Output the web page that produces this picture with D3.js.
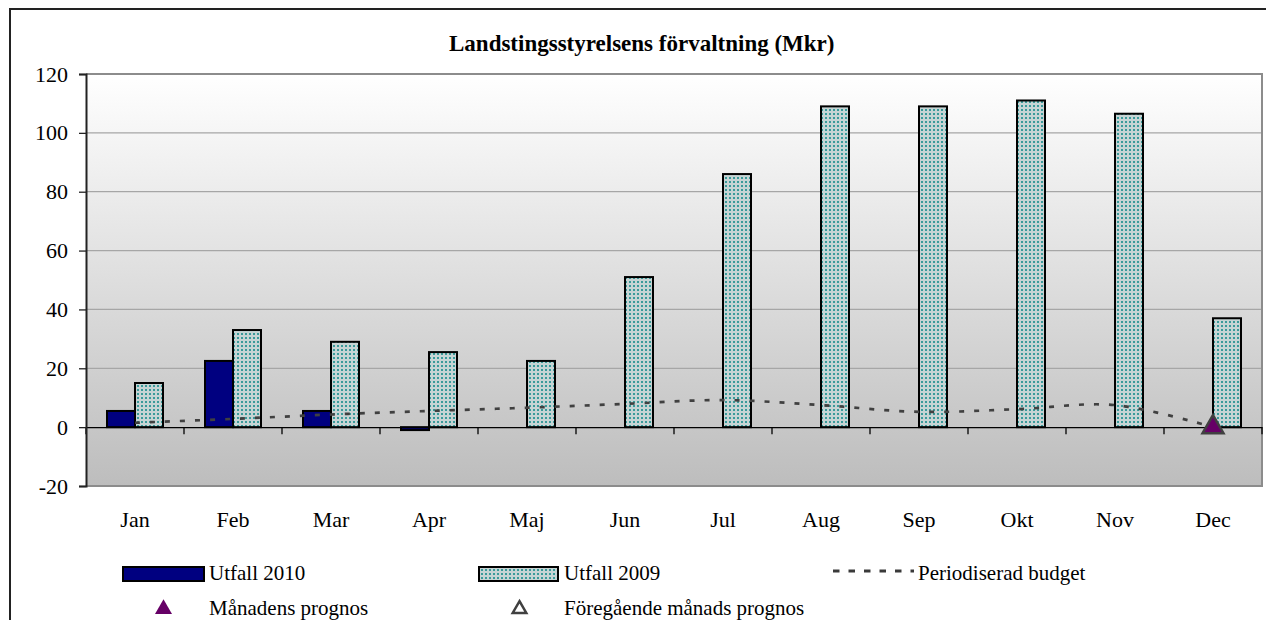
<!DOCTYPE html>
<html>
<head>
<meta charset="utf-8">
<script src="https://cdn.jsdelivr.net/npm/d3@7"></script>
<style>
  body { margin: 0; background: #fff; }
  svg { display: block; }
  svg text { font-family: "Liberation Serif", "Times New Roman", Times, "DejaVu Serif", serif; }
</style>
</head>
<body>
<svg width="1266" height="620"></svg>
<script>
// chart data
const months = ["Jan", "Feb", "Mar", "Apr", "Maj", "Jun", "Jul", "Aug", "Sep", "Okt", "Nov", "Dec"];
const utfall2010 = [5.5, 22.5, 5.5, -1, null, null, null, null, null, null, null, null];
const utfall2009 = [15, 33, 29, 25.5, 22.5, 51, 86, 109, 109, 111, 106.5, 37];
const budget = [1.5, 2.8, 4.3, 5.5, 6.6, 7.9, 9.2, 7.5, 5.2, 6.1, 7.5, 0];
const prognos = [{ month: "Dec", value: 0 }];
const yTicks = [-20, 0, 20, 40, 60, 80, 100, 120];

let svg = d3.select("svg");
let plotLeft = 86, plotRight = 1262, plotTop = 74, plotBottom = 486;

let x = d3.scaleBand().domain(months).range([plotLeft, plotRight]);
let y = d3.scaleLinear().domain([-20, 120]).range([plotBottom, plotTop]);
let inner = d3.scaleBand().domain(["2010", "2009"]).range([x.bandwidth() / 2 - 28, x.bandwidth() / 2 + 28]);

let defs = svg.append("defs");
let grad = defs.append("linearGradient")
    .attr("id", "bg").attr("x1", 0).attr("y1", 0).attr("x2", 0).attr("y2", 1);
grad.append("stop").attr("offset", "0%").attr("stop-color", "#ffffff");
grad.append("stop").attr("offset", "100%").attr("stop-color", "#bdbdbd");

// dotted fill for 2009 bars
let pat = defs.append("pattern")
    .attr("id", "dots").attr("width", 4).attr("height", 4)
    .attr("patternUnits", "userSpaceOnUse");
pat.append("rect").attr("width", 4).attr("height", 4).attr("fill", "#c6d4d4");
pat.append("rect").attr("x", 1).attr("y", 1).attr("width", 2).attr("height", 2).attr("fill", "#3a9a9a");

// outer frame (runs off the picture at right and bottom)
svg.append("rect")
    .attr("x", 10).attr("y", 9).attr("width", 1300).attr("height", 700)
    .attr("fill", "none").attr("stroke", "#222").attr("stroke-width", 2);

// plot background
svg.append("rect")
    .attr("x", plotLeft).attr("y", plotTop)
    .attr("width", plotRight - plotLeft).attr("height", plotBottom - plotTop)
    .attr("fill", "url(#bg)");

// gridlines
svg.append("g").selectAll("line")
    .data(yTicks.filter(d => d > -20 && d !== 0))
    .enter().append("line")
    .attr("x1", plotLeft).attr("x2", plotRight)
    .attr("y1", d => y(d)).attr("y2", d => y(d))
    .attr("stroke", "#a6a6a6").attr("stroke-width", 1.2);

// plot border
svg.append("path")
    .attr("d", `M${plotLeft},${plotTop}H${plotRight}V${plotBottom}H${plotLeft}`)
    .attr("fill", "none").attr("stroke", "#8c8c8c").attr("stroke-width", 2);

// title
svg.append("text")
    .attr("x", 449).attr("y", 51)
    .attr("font-size", 23).attr("font-weight", "bold")
    .text("Landstingsstyrelsens förvaltning (Mkr)");

// bars 2009
svg.append("g").selectAll("rect")
    .data(months.map((m, i) => ({ m: m, v: utfall2009[i] })))
    .enter().append("rect")
    .attr("x", d => x(d.m) + inner("2009"))
    .attr("width", inner.bandwidth())
    .attr("y", d => y(Math.max(0, d.v)))
    .attr("height", d => Math.abs(y(d.v) - y(0)))
    .attr("fill", "url(#dots)").attr("stroke", "#000").attr("stroke-width", 2);

// bars 2010
svg.append("g").selectAll("rect")
    .data(months.map((m, i) => ({ m: m, v: utfall2010[i] })).filter(d => d.v !== null))
    .enter().append("rect")
    .attr("x", d => x(d.m) + inner("2010"))
    .attr("width", inner.bandwidth())
    .attr("y", d => y(Math.max(0, d.v)))
    .attr("height", d => Math.abs(y(d.v) - y(0)))
    .attr("fill", "#000080").attr("stroke", "#000").attr("stroke-width", 2);

// zero axis with ticks
svg.append("g")
    .attr("transform", `translate(0,${y(0)})`)
    .call(d3.axisBottom(x).tickSize(0).tickFormat(""))
    .call(g => g.select(".domain").attr("stroke", "#000").attr("stroke-width", 1.3));
svg.append("g").selectAll("line")
    .data(d3.range(months.length + 1))
    .enter().append("line")
    .attr("x1", i => plotLeft + i * x.step()).attr("x2", i => plotLeft + i * x.step())
    .attr("y1", y(0)).attr("y2", y(0) + 7)
    .attr("stroke", "#000").attr("stroke-width", 1.3);

// y axis
let yAxis = svg.append("g")
    .attr("transform", `translate(${plotLeft},0)`)
    .call(d3.axisLeft(y).tickValues(yTicks).tickSize(7).tickPadding(11).tickFormat(d => String(d)));
yAxis.attr("font-family", null);
yAxis.select(".domain").attr("stroke", "#222").attr("stroke-width", 2);
yAxis.selectAll(".tick line").attr("stroke", "#222").attr("stroke-width", 1.3);
yAxis.selectAll("text").attr("font-size", 22).attr("fill", "#000");

// month labels
svg.append("g").selectAll("text")
    .data(months).enter().append("text")
    .attr("x", d => x(d) + x.bandwidth() / 2)
    .attr("y", 527)
    .attr("text-anchor", "middle").attr("font-size", 22)
    .text(d => d);

// budget line
let line = d3.line()
    .x((d, i) => x(months[i]) + x.bandwidth() / 2)
    .y(d => y(d))
    .curve(d3.curveCatmullRom);
svg.append("path")
    .datum(budget)
    .attr("d", line)
    .attr("fill", "none").attr("stroke", "#404040")
    .attr("stroke-width", 2.7).attr("stroke-dasharray", "5,10");

// forecast marker
let tri = d3.symbol().type(d3.symbolTriangle).size(190);
svg.append("g").selectAll("path")
    .data(prognos).enter().append("path")
    .attr("d", tri)
    .attr("transform", d => `translate(${x(d.month) + x.bandwidth() / 2},${y(d.value)})`)
    .attr("fill", "#660066").attr("stroke", "#404040").attr("stroke-width", 2.5);

// legend
let lg = svg.append("g").attr("font-size", 21);
lg.append("rect").attr("x", 123).attr("y", 567).attr("width", 81).attr("height", 14)
    .attr("fill", "#000080").attr("stroke", "#000").attr("stroke-width", 2);
lg.append("text").attr("x", 209).attr("y", 580).text("Utfall 2010");
lg.append("rect").attr("x", 479).attr("y", 567).attr("width", 79).attr("height", 14)
    .attr("fill", "url(#dots)").attr("stroke", "#000").attr("stroke-width", 2);
lg.append("text").attr("x", 564).attr("y", 580).text("Utfall 2009");
lg.append("line").attr("x1", 833).attr("x2", 914).attr("y1", 571).attr("y2", 571)
    .attr("stroke", "#3a3a3a").attr("stroke-width", 3).attr("stroke-dasharray", "6.5,9");
lg.append("text").attr("x", 918).attr("y", 580).text("Periodiserad budget");
lg.append("path").attr("d", d3.symbol().type(d3.symbolTriangle).size(125))
    .attr("transform", "translate(163.5,609)")
    .attr("fill", "#660066");
lg.append("text").attr("x", 209).attr("y", 615).text("Månadens prognos");
lg.append("path").attr("d", d3.symbol().type(d3.symbolTriangle).size(80))
    .attr("transform", "translate(519.5,609)")
    .attr("fill", "none").attr("stroke", "#404040").attr("stroke-width", 2.5);
lg.append("text").attr("x", 564).attr("y", 615).text("Föregående månads prognos");
</script>
</body>
</html>
